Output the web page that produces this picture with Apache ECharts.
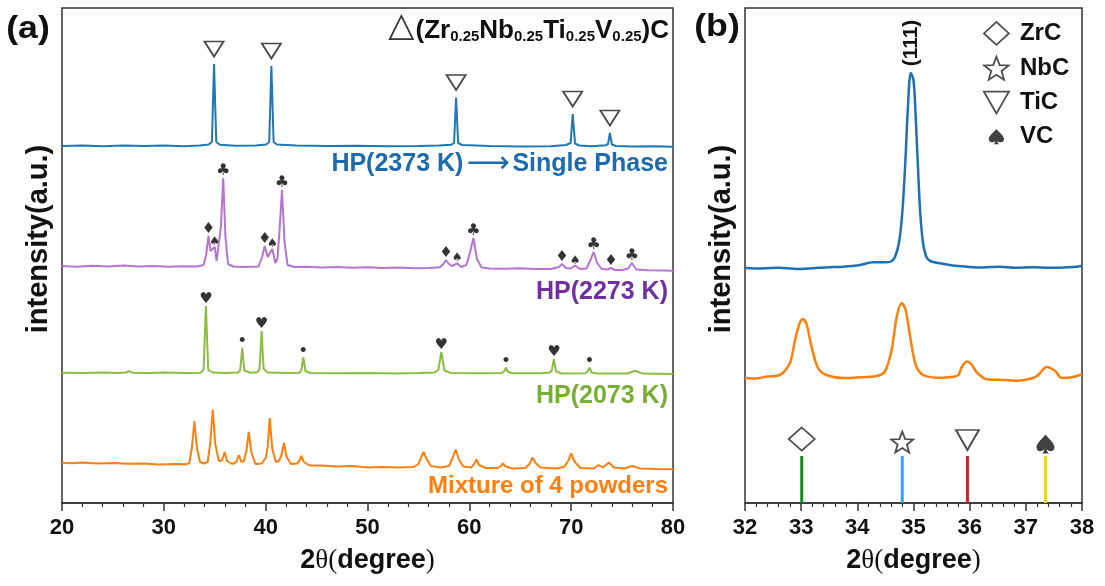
<!DOCTYPE html>
<html><head><meta charset="utf-8">
<script src="https://cdn.jsdelivr.net/npm/echarts/dist/echarts.min.js"></script>
<style>html,body{margin:0;padding:0;background:#fff}#c{width:1105px;height:586px}</style>
</head><body><div id="c"></div>
<script>
// ---------- DATA (2θ in degrees, intensity in arbitrary units) ----------
const xRangeA = [20, 80];
const xRangeB = [32, 38];

// Panel (a) patterns: [2θ, intensity above own baseline]
const hp2373 = [[20,0],[22,0.5],[24,-0.3],[26,0.4],[28,0],[30,0.5],[32,-0.2],[33.5,0.6],[34.4,1.5],[34.72,4],[34.93,82],[35.15,4],[35.5,1.2],[37,0.3],[39,0.6],[40.05,1.5],[40.35,4],[40.56,80],[40.78,4],[41.1,1.5],[43,0.4],[46,0],[49,0.3],[52,-0.3],[55,0],[57,0.4],[58.2,1.2],[58.5,3],[58.7,48.5],[58.9,3],[59.3,1],[62,0],[65,-0.5],[68,-0.2],[69.5,1],[69.95,3],[70.15,32],[70.38,2.5],[70.8,0.5],[72,-0.3],[73.4,0.8],[73.62,2],[73.8,13],[74.0,1.5],[74.4,0],[76,-0.5],[78,-0.3],[80,-0.8]];
const hp2273 = [[20,1],[21.5,0.3],[23,1.2],[24.5,0.4],[26,1.5],[27.5,0.6],[29,1],[30.5,0.2],[32,0.8],[33.3,0.5],[33.9,2],[34.15,12],[34.39,31],[34.58,16],[34.7,15],[35.0,20],[35.18,6],[35.35,4],[35.6,40],[35.83,89],[36.05,30],[36.3,3],[36.8,0.5],[38,0],[39.3,0.5],[39.65,10],[39.9,21],[40.2,10],[40.3,10],[40.65,18],[40.95,4],[41.15,8],[41.35,35],[41.6,77],[41.85,25],[42.15,2],[42.8,0],[44,0.2],[45.5,-0.5],[47,0],[48.5,-0.8],[50,-0.2],[51.5,-1],[53,-0.5],[54.5,-1.3],[56,-1],[57.1,-0.3],[57.45,3],[57.7,7],[58.0,3],[58.3,1],[58.8,3.7],[59.2,0],[59.7,2],[60.05,14],[60.4,29],[60.75,8],[61.2,-0.5],[62,-1.5],[63.5,-1.8],[65,-1.2],[66.5,-2],[68,-2],[68.8,0],[69.1,3],[69.5,-1],[69.95,-1.5],[70.4,1.5],[70.85,-2],[71.5,-1.5],[71.9,7],[72.2,15],[72.55,4],[73.0,-2],[73.6,-2.5],[73.9,-1],[74.3,-3],[75,-3],[75.6,-1.5],[75.96,4],[76.4,-2.5],[77.5,-3.3],[79,-3.5],[80,-3.8]];
const hp2073 = [[20,0.3],[22,0],[24,0.5],[25.5,0],[26.3,0.5],[26.6,2],[26.9,0.3],[28.5,0],[30,0.4],[32,0],[33.6,0.3],[33.9,3],[34.13,67],[34.36,3],[34.8,0.5],[36,0],[37.3,0.5],[37.5,3],[37.7,25.5],[37.9,2.5],[38.5,0.3],[39.2,0.8],[39.4,4],[39.6,42],[39.8,4],[40.2,0.5],[42,0],[43.3,0.3],[43.5,2.5],[43.7,15.5],[43.9,2],[44.4,0],[47,-0.2],[50,0],[53,-0.4],[55,0],[56.6,0.5],[56.95,3],[57.25,21],[57.55,2.5],[58.2,0],[61,-0.3],[63.2,0],[63.4,1.5],[63.6,5.3],[63.8,1],[64.3,-0.3],[67,-0.3],[67.9,0.5],[68.1,2.5],[68.3,14],[68.5,2],[69,-0.5],[71.4,-0.3],[71.6,1.5],[71.8,5.3],[72,0.5],[72.6,-0.5],[75.5,-0.5],[76.3,2.3],[77,-0.6],[80,-1]];
const mixture = [[20,1.3],[21,0.8],[22,1.5],[23.5,0.5],[25,1],[26.5,0.2],[28,0.5],[29.5,-0.5],[31,0],[32.2,-0.3],[32.5,1],[32.75,16],[33.0,43],[33.25,16],[33.55,2],[33.9,0.5],[34.3,2],[34.55,20],[34.8,54.5],[35.05,20],[35.4,3],[35.7,3.5],[35.97,12],[36.2,3],[36.7,0],[37.1,2],[37.37,9],[37.6,2],[37.85,3],[38.1,13],[38.34,32],[38.6,11],[39.0,0],[39.6,0.5],[40.0,6],[40.2,17],[40.4,46],[40.65,15],[41.0,2],[41.3,3],[41.55,9],[41.8,21],[42.05,7],[42.5,0],[43.1,0.5],[43.3,3],[43.5,8],[43.75,2],[44.3,-1.5],[45.5,-1.5],[47,-2.5],[48.5,-2],[50,-3.5],[51.5,-3],[53,-3.5],[54.5,-3],[55.0,0],[55.25,6],[55.5,12],[55.8,5],[56.2,-2],[57.2,-3.5],[58.0,-2],[58.35,6],[58.65,14.5],[58.95,5],[59.4,-2.5],[60.2,-3.5],[60.5,0.5],[60.7,4.5],[60.95,-1],[61.6,-4],[62.8,-4],[63.1,-2],[63.3,0.5],[63.55,-2.5],[64.3,-4.5],[65.5,-4],[65.9,0],[66.2,6.5],[66.5,1],[67,-3.5],[68.5,-4.5],[69.3,-3],[69.7,3],[70.0,10.5],[70.35,2],[70.9,-4],[72.2,-4.5],[72.7,-1],[73.1,-3.5],[73.7,1.5],[74.2,-3.5],[75.2,-4.5],[76.0,-2],[76.8,-4.5],[78.5,-5],[80,-5.3]];

// Phase markers on panel (a): [2θ, peak intensity, glyph]
const marks2373 = [[34.93,82],[40.56,80],[58.7,48.5],[70.15,32],[73.8,13]];
const marks2273 = [[34.39,31,'♦'],[35.0,20,'♠'],[35.83,89,'♣'],[39.9,21,'♦'],[40.65,18,'♠'],[41.6,77,'♣'],[57.7,7,'♦'],[58.8,3.7,'♠'],[60.4,29,'♣'],[69.1,3,'♦'],[70.4,1.5,'♠'],[72.2,15,'♣'],[73.9,-1,'♦'],[75.96,4,'♣']];
const marks2073 = [[34.13,67,'♥'],[37.7,25.5,'•'],[39.6,42,'♥'],[43.7,15.5,'•'],[57.25,21,'♥'],[63.6,5.3,'•'],[68.3,14,'♥'],[71.8,5.3,'•']];

// Panel (b) patterns
const hp2373B = [[32.0,0],[32.3,-0.5],[32.6,0.3],[32.92,-1],[33.2,-0.3],[33.5,0.8],[33.75,1.3],[34.05,3],[34.28,5.7],[34.49,5.7],[34.6,6.5],[34.67,11],[34.74,25],[34.8,55],[34.85,101],[34.9,160],[34.95,195],[35.0,188],[35.04,150],[35.08,100],[35.12,55],[35.17,25],[35.23,11],[35.3,7],[35.47,4.7],[35.7,2.5],[35.95,1.3],[36.2,0.5],[36.54,1.3],[36.8,0.3],[37.13,0.7],[37.4,0.2],[37.73,0.7],[37.9,1.2],[38.0,2.3]];
const mixtureB = [[32.0,0],[32.2,-0.5],[32.39,1.5],[32.62,3],[32.8,15],[32.89,38],[32.98,56],[33.03,59],[33.1,53],[33.19,30],[33.3,10],[33.45,3],[33.75,0],[34.0,0.5],[34.34,2],[34.49,6.5],[34.61,28],[34.7,61],[34.79,75],[34.86,68],[34.95,38],[35.04,13],[35.17,3],[35.47,0.3],[35.71,1.3],[35.8,3],[35.86,11],[35.95,16.5],[36.04,13],[36.12,6],[36.3,-1.3],[36.6,-2],[36.84,-2.7],[37.13,0],[37.22,3],[37.37,11],[37.52,7],[37.64,0],[37.84,1],[38.0,3.7]];

// Reference (standard) peak positions
const refNames = ['ZrC', 'NbC', 'TiC', 'VC'];
const refPos = [33.01, 34.8, 35.96, 37.35];
const refHeight = [47, 47, 47, 47];

// ---------- STYLE / LAYOUT ----------
const F = '"Liberation Sans", Arial, Helvetica, sans-serif';
const base = {a2373: 357, a2273: 236, a2073: 130, amix: 39, b2373: 235, bmix: 125};
const refColors = ['#1b8a1b', '#2ea6f0', '#c3282e', '#e4d52a'];
const refSymbols = [
  'diamond',
  'path://M12,1 L14.9,8.6 L23,8.9 L16.7,14 L18.9,21.8 L12,17.3 L5.1,21.8 L7.3,14 L1,8.9 L9.1,8.6 Z',
  'path://M0,0 L24,0 L12,21 Z',
  'path://M50,0 C30,25 0,45 0,68 C0,88 25,95 44,78 C42,88 38,95 30,100 L70,100 C62,95 58,88 56,78 C75,95 100,88 100,68 C100,45 70,25 50,0 Z'
];
const refSymSize = [[26,23],[22,21],[23,20],[18,19]];
const refSymOff = [-17, -14, -16, -12];
const glyphSize = {'♦':15,'♠':12,'♣':16,'♥':15,'•':14};

function shift(arr, off) { return arr.map(p => [p[0], p[1] + off]); }
function line(data, off, color, xi, w, smooth) {
  return {type:'line', xAxisIndex:xi, yAxisIndex:xi, data:shift(data, off), showSymbol:false, symbol:'none',
    smooth: smooth || false, lineStyle:{color, width:w}, itemStyle:{color}, z:2, silent:true};
}
function glyphs(marks, off) {
  return {type:'scatter', xAxisIndex:0, yAxisIndex:0, symbolSize:0.1, itemStyle:{color:'transparent'}, z:4, silent:true,
    label:{show:true, position:'top', distance:-1, color:'#000', fontWeight:'bold', fontFamily:'"DejaVu Sans", sans-serif', formatter:p => p.data.g},
    data: marks.map(m => ({value:[m[0], m[1] + off], g:m[2], label:{fontSize:glyphSize[m[2]]}}))};
}
function txt(x, y, text, size, color, extra) {
  return Object.assign({type:'text', x, y, style:Object.assign({text, fontSize:size, fontWeight:'bold', fontFamily:F, fill:color,
    align:'right', verticalAlign:'middle', textAlign:'right', textVerticalAlign:'middle'}, (extra && extra.style) || {})},
    extra ? Object.assign({}, extra, {style:undefined}) : {});
}

const xAxisCommon = {
  type:'value', splitLine:{show:false}, minorSplitLine:{show:false},
  axisLine:{show:true, onZero:false, lineStyle:{color:'#333', width:1.5}},
  axisTick:{show:true, inside:false, length:8, lineStyle:{color:'#333', width:1.5}},
  minorTick:{show:true, splitNumber:5, length:4, lineStyle:{color:'#333', width:1.2}},
  axisLabel:{fontSize:22, fontWeight:'bold', fontFamily:F, color:'#111', margin:14},
  nameLocation:'middle', nameGap:44,
  name:'{b|2}{t|θ(}{b|degree}{t|)}',
  nameTextStyle:{rich:{
    b:{fontSize:27, fontWeight:'bold', fontFamily:F, color:'#111'},
    t:{fontSize:27, fontFamily:'"Liberation Serif", "DejaVu Serif", serif', color:'#111'}
  }}
};

const series = [
  line(hp2373, base.a2373, '#1f77b4', 0, 2),
  line(hp2273, base.a2273, '#b574d1', 0, 2),
  line(hp2073, base.a2073, '#8bbd45', 0, 2),
  line(mixture, base.amix, '#ff7f0e', 0, 2),
  {type:'scatter', xAxisIndex:0, yAxisIndex:0, symbol:'path://M0,0 L20,0 L10,16 Z', symbolSize:[19,15], symbolOffset:[0,-15],
   itemStyle:{color:'#fff', borderColor:'#1a1a1a', borderWidth:1.8}, z:4, silent:true, data:shift(marks2373, base.a2373)},
  glyphs(marks2273, base.a2273),
  glyphs(marks2073, base.a2073),
  line(hp2373B, base.b2373, '#1f6fb5', 1, 2.5, 0.3),
  line(mixtureB, base.bmix, '#ff7f0e', 1, 2.5, 0.3),
  {type:'bar', xAxisIndex:1, yAxisIndex:1, barWidth:3, silent:true, z:2,
   data: refPos.map((x, i) => ({value:[x, refHeight[i]], itemStyle:{color:refColors[i]}}))}
];
refNames.forEach((n, i) => {
  series.push({type:'scatter', name:n, xAxisIndex:1, yAxisIndex:1, symbol:refSymbols[i], symbolSize:refSymSize[i],
    symbolOffset:[0, refSymOff[i]], silent:true, z:4,
    itemStyle: i === 3 ? {color:'#111'} : {color:'#fff', borderColor:'#222', borderWidth:1.8},
    data:[[refPos[i], refHeight[i]]]});
});

const spadeLegend = 'path://M-30,-25 M130,125 ' + refSymbols[3].slice(7);

const option = {
  animation:false,
  backgroundColor:'#fff',
  grid:[
    {left:62, right:432, top:8, bottom:83, show:true, borderColor:'#333', borderWidth:1.5, containLabel:false, outerBoundsMode:'none'},
    {left:745, right:23, top:8, bottom:83, show:true, borderColor:'#333', borderWidth:1.5, containLabel:false, outerBoundsMode:'none'}
  ],
  xAxis:[
    Object.assign({}, xAxisCommon, {gridIndex:0, min:xRangeA[0], max:xRangeA[1], interval:10}),
    Object.assign({}, xAxisCommon, {gridIndex:1, min:xRangeB[0], max:xRangeB[1], interval:1})
  ],
  yAxis:[
    {type:'value', gridIndex:0, min:0, max:495, show:false},
    {type:'value', gridIndex:1, min:0, max:495, show:false}
  ],
  legend:{
    orient:'vertical', left:983, top:21, padding:0, itemWidth:25, itemHeight:23, itemGap:10, selectedMode:false,
    textStyle:{fontSize:24, fontWeight:'bold', fontFamily:F, color:'#111', padding:[0,0,0,6]},
    data:[
      {name:'ZrC', icon:'diamond', itemStyle:{color:'#fff', borderColor:'#222', borderWidth:1.8}},
      {name:'NbC', icon:refSymbols[1], itemStyle:{color:'#fff', borderColor:'#222', borderWidth:1.8}},
      {name:'TiC', icon:refSymbols[2], itemStyle:{color:'#fff', borderColor:'#222', borderWidth:1.8}},
      {name:'VC', icon:spadeLegend, itemStyle:{color:'#111', borderWidth:0}}
    ]
  },
  graphic:[
    {type:'text', x:28, y:29, scaleX:1.15, style:{text:'(a)', fontSize:31, fontWeight:'bold', fontFamily:F, fill:'#111', align:'center', verticalAlign:'middle', textAlign:'center', textVerticalAlign:'middle'}},
    {type:'text', x:717, y:27, scaleX:1.15, style:{text:'(b)', fontSize:31, fontWeight:'bold', fontFamily:F, fill:'#111', align:'center', verticalAlign:'middle', textAlign:'center', textVerticalAlign:'middle'}},
    {type:'text', x:669, y:27, style:{
      text:'{tri|△}{m|(Zr}{s|0.25}{m|Nb}{s|0.25}{m|Ti}{s|0.25}{m|V}{s|0.25}{m|)C}',
      align:'right', verticalAlign:'middle', textAlign:'right', textVerticalAlign:'middle',
      rich:{
        tri:{fontSize:34, fontFamily:'"DejaVu Sans", sans-serif', fill:'#333', color:'#333', lineHeight:34, verticalAlign:'bottom', padding:[0,1,0,0]},
        m:{fontSize:26, fontWeight:'bold', fontFamily:F, fill:'#111', color:'#111', lineHeight:32, verticalAlign:'bottom'},
        s:{fontSize:15, fontWeight:'bold', fontFamily:F, fill:'#111', color:'#111', lineHeight:14, verticalAlign:'bottom'}
      }}},
    {type:'text', x:668, y:164, style:{
      text:'{b|HP(2373 K)}{ar|⟶}{b|Single Phase}', align:'right', verticalAlign:'middle', textAlign:'right', textVerticalAlign:'middle',
      rich:{b:{fontSize:25, fontWeight:'bold', fontFamily:F, fill:'#1c6bb0', color:'#1c6bb0'},
            ar:{fontSize:30, fontFamily:'"DejaVu Sans", sans-serif', fill:'#1c6bb0', color:'#1c6bb0', padding:[0,3,0,3]}}}},
    txt(668, 292, 'HP(2273 K)', 25, '#7030a0'),
    txt(668, 396, 'HP(2073 K)', 25, '#78ad36'),
    txt(668, 486, 'Mixture of 4 powders', 24, '#ff7f0e'),
    {type:'text', x:39, y:239, rotation:Math.PI/2, style:{text:'intensity(a.u.)', fontSize:29, fontWeight:'bold', fontFamily:F, fill:'#111', align:'center', verticalAlign:'middle', textAlign:'center', textVerticalAlign:'middle'}},
    {type:'text', x:722, y:239, rotation:Math.PI/2, style:{text:'intensity(a.u.)', fontSize:29, fontWeight:'bold', fontFamily:F, fill:'#111', align:'center', verticalAlign:'middle', textAlign:'center', textVerticalAlign:'middle'}},
    {type:'text', x:911, y:43, rotation:Math.PI/2, style:{text:'(111)', fontSize:21, fontWeight:'bold', fontFamily:F, fill:'#111', align:'center', verticalAlign:'middle', textAlign:'center', textVerticalAlign:'middle'}}
  ],
  series
};
const chart = echarts.init(document.getElementById('c'), null, {renderer:'canvas'});
chart.setOption(option);
</script></body></html>
